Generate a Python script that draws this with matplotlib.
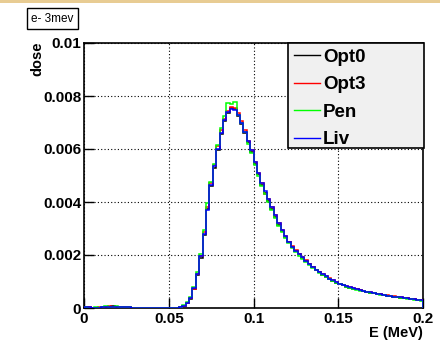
import numpy as np
import matplotlib
matplotlib.use("Agg")
import matplotlib.pyplot as plt
from matplotlib.patches import Rectangle

# Energy binning: 100 bins from 0 to 0.2 MeV
e_min, e_max, n_bins = 0.0, 0.2, 100

# Dose per bin, in units of 1e-3
opt0 = [0.03, 0.02, 0.01, 0.01, 0.01, 0.04, 0.05, 0.05, 0.06, 0.05,
        0.05, 0.04, 0.04, 0.02, 0.01, 0.01, 0.01, 0.01, 0.00, 0.00,
        0.00, 0.00, 0.00, 0.00, 0.00, 0.00, 0.00, 0.01, 0.02, 0.08,
        0.18, 0.35, 0.70, 1.25, 1.90, 2.75, 3.75, 4.60, 5.30, 5.95,
        6.55, 7.05, 7.35, 7.55, 7.50, 7.25, 6.95, 6.60, 6.25, 5.90,
        5.45, 5.05, 4.65, 4.35, 4.05, 3.75, 3.45, 3.15, 2.90, 2.68,
        2.48, 2.30, 2.15, 2.02, 1.90, 1.77, 1.65, 1.54, 1.44, 1.35,
        1.26, 1.18, 1.10, 1.03, 0.96, 0.91, 0.86, 0.81, 0.77, 0.73,
        0.70, 0.67, 0.64, 0.61, 0.58, 0.56, 0.53, 0.51, 0.49, 0.47,
        0.45, 0.43, 0.41, 0.39, 0.38, 0.36, 0.35, 0.33, 0.31, 0.29]

opt3 = [0.02, 0.02, 0.01, 0.01, 0.02, 0.05, 0.04, 0.06, 0.05, 0.05,
        0.04, 0.05, 0.03, 0.02, 0.01, 0.01, 0.00, 0.01, 0.00, 0.00,
        0.00, 0.00, 0.00, 0.00, 0.00, 0.00, 0.00, 0.01, 0.03, 0.09,
        0.20, 0.37, 0.72, 1.30, 1.95, 2.85, 3.80, 4.70, 5.40, 6.10,
        6.70, 7.15, 7.45, 7.60, 7.55, 7.35, 7.05, 6.70, 6.30, 5.95,
        5.50, 5.10, 4.70, 4.30, 4.10, 3.80, 3.50, 3.20, 2.95, 2.72,
        2.50, 2.35, 2.17, 2.05, 1.92, 1.80, 1.66, 1.56, 1.45, 1.37,
        1.28, 1.19, 1.12, 1.04, 0.98, 0.92, 0.87, 0.83, 0.78, 0.74,
        0.71, 0.68, 0.65, 0.62, 0.59, 0.57, 0.54, 0.52, 0.50, 0.48,
        0.46, 0.44, 0.42, 0.40, 0.38, 0.37, 0.35, 0.34, 0.32, 0.30]

pen = [0.03, 0.01, 0.01, 0.02, 0.01, 0.04, 0.06, 0.05, 0.05, 0.06,
       0.04, 0.04, 0.03, 0.02, 0.01, 0.00, 0.01, 0.01, 0.00, 0.00,
       0.00, 0.00, 0.00, 0.00, 0.00, 0.00, 0.00, 0.01, 0.03, 0.10,
       0.21, 0.40, 0.78, 1.35, 2.05, 2.95, 3.95, 4.75, 5.45, 6.15,
       6.80, 7.25, 7.75, 7.70, 7.78, 7.30, 7.00, 6.65, 6.20, 5.85,
       5.40, 5.00, 4.60, 4.30, 4.00, 3.70, 3.40, 3.10, 2.85, 2.65,
       2.45, 2.28, 2.12, 1.98, 1.86, 1.74, 1.62, 1.52, 1.42, 1.33,
       1.24, 1.16, 1.09, 1.01, 0.95, 0.90, 0.85, 0.80, 0.76, 0.72,
       0.69, 0.66, 0.63, 0.60, 0.57, 0.55, 0.52, 0.50, 0.48, 0.46,
       0.44, 0.42, 0.40, 0.38, 0.37, 0.35, 0.34, 0.32, 0.30, 0.28]

liv = [0.02, 0.02, 0.01, 0.01, 0.01, 0.04, 0.05, 0.05, 0.05, 0.05,
       0.05, 0.04, 0.03, 0.02, 0.01, 0.01, 0.01, 0.00, 0.00, 0.00,
       0.00, 0.00, 0.00, 0.00, 0.00, 0.00, 0.00, 0.01, 0.03, 0.09,
       0.19, 0.36, 0.74, 1.28, 1.98, 2.80, 3.70, 4.65, 5.35, 6.00,
       6.60, 7.10, 7.40, 7.52, 7.48, 7.30, 7.00, 6.65, 6.30, 5.95,
       5.50, 5.10, 4.70, 4.40, 4.10, 3.80, 3.50, 3.20, 2.95, 2.70,
       2.50, 2.32, 2.16, 2.03, 1.91, 1.78, 1.66, 1.55, 1.45, 1.36,
       1.27, 1.19, 1.11, 1.04, 0.97, 0.92, 0.87, 0.82, 0.78, 0.74,
       0.70, 0.67, 0.64, 0.61, 0.59, 0.56, 0.54, 0.51, 0.49, 0.47,
       0.45, 0.43, 0.41, 0.40, 0.38, 0.36, 0.35, 0.33, 0.31, 0.29]

series_names = ["Opt0", "Opt3", "Pen", "Liv"]
series_colors = ["black", "#ff0000", "#00ff00", "#0000ff"]
series_values = [opt0, opt3, pen, liv]

x_ticks = [0, 0.05, 0.1, 0.15, 0.2]
x_tick_labels = ["0", "0.05", "0.1", "0.15", "0.2"]
y_ticks = [0, 0.002, 0.004, 0.006, 0.008, 0.01]
y_tick_labels = ["0", "0.002", "0.004", "0.006", "0.008", "0.01"]

plt.rcParams["font.family"] = ["Liberation Sans", "DejaVu Sans"]

W, H = 440, 341
fig = plt.figure(figsize=(W / 100, H / 100), dpi=100)
fig.patch.set_facecolor("white")

# Golden strip along the top edge
fig.patches.append(Rectangle((0, 1 - 3 / H), 1, 3 / H, transform=fig.transFigure,
                             facecolor="#e8cc93", edgecolor="none", zorder=0))

ax = fig.add_axes([84 / W, 1 - 308 / H, (423 - 84) / W, (308 - 43) / H])

edges = np.linspace(e_min, e_max, n_bins + 1)
for name, color, vals in zip(series_names, series_colors, series_values):
    dose = np.asarray(vals) * 1e-3
    ax.stairs(dose, edges, color=color, linewidth=1.1, label=name, zorder=3)

ax.set_xlim(e_min, e_max)
ax.set_ylim(0, 0.01)
ax.set_xticks(x_ticks)
ax.set_xticklabels(x_tick_labels)
ax.set_yticks(y_ticks)
ax.set_yticklabels(y_tick_labels)
ax.grid(True, color="black", linestyle=(0, (1, 2)), linewidth=0.8)
ax.set_axisbelow(True)

ax.tick_params(direction="in", length=7, width=1, labelsize=11, pad=2,
               top=False, right=False)
ax.tick_params(axis="x", pad=3)
for lab in ax.get_xticklabels() + ax.get_yticklabels():
    lab.set_fontweight("bold")
for sp in ax.spines.values():
    sp.set_linewidth(1.2)

# Legend box
lx0, ly0, lx1, ly1 = 288, 43, 424, 148
ax.add_patch(Rectangle((lx0 / W, 1 - ly1 / H), (lx1 - lx0) / W, (ly1 - ly0) / H,
                       transform=fig.transFigure, facecolor="#f0f0f0",
                       edgecolor="black", linewidth=1.2, clip_on=False, zorder=6))
leg = ax.legend(loc="upper left", bbox_to_anchor=((lx0 + 2) / W, 1 - (ly0 + 2) / H),
                bbox_transform=fig.transFigure, frameon=False, handlelength=1.4,
                handletextpad=0.15, labelspacing=0.55, borderaxespad=0, borderpad=0.2,
                prop={"weight": "bold", "size": 13.5})
leg.set_zorder(7)
for line in leg.get_lines():
    line.set_linewidth(1.0)

# Title box
fig.text(31 / W, 1 - 18.5 / H, "e- 3mev", ha="left", va="center", fontsize=8.5,
         bbox=dict(boxstyle="square,pad=0.35", facecolor="white", edgecolor="black",
                   linewidth=1.0))

# Axis titles
fig.text(37 / W, 1 - 42 / H, "dose", rotation=90, ha="center", va="top",
         fontsize=10.5, fontweight="bold")
fig.text(423 / W, 1 - 333 / H, "E (MeV)", ha="right", va="center",
         fontsize=10.5, fontweight="bold")

fig.savefig("out.png", dpi=100)
